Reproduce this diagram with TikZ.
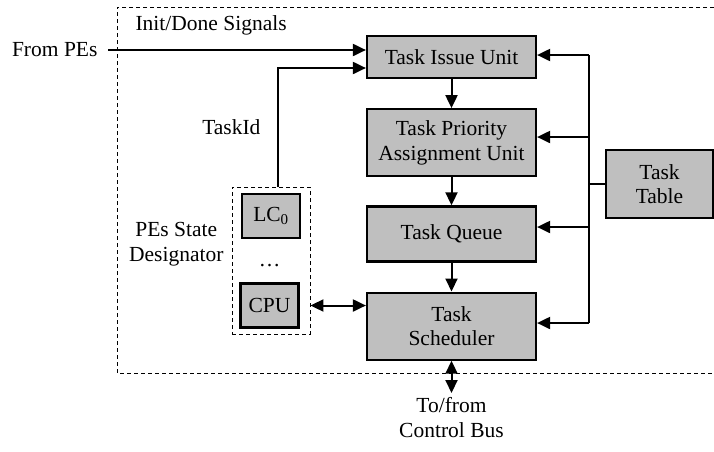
\documentclass[tikz,border=0pt]{standalone}
\usepackage{fontspec}
\setmainfont{Liberation Serif}
\usetikzlibrary{arrows.meta, positioning}

\begin{document}
\begin{tikzpicture}[
    x=1pt, y=-1pt,
    font=\fontsize{21.5}{24.5}\selectfont,
    blok/.style={draw, line width=2.2pt, fill=black!25, minimum width=169pt,
                 align=center, inner sep=0pt},
    kecil/.style={blok, minimum width=58pt, minimum height=44pt},
    panah/.style={-{Triangle[length=13pt, width=12pt]}, line width=2pt},
    panahdua/.style={{Triangle[length=13pt, width=12pt]}-{Triangle[length=13pt, width=12pt]}, line width=2pt},
    garis/.style={dash pattern=on 4pt off 3pt, line width=0.9pt}
  ]
    \useasboundingbox (0,0) rectangle (714,451);
    % batas unit
    \draw[garis] (714,7) -- (117,7) -- (117,373) -- (714,373);
    \node[anchor=west] (initlbl) at (132,25) {Init/Done Signals};

    % blok utama
    \node[blok, minimum height=42pt] (issue) at (451.5,57) {Task Issue Unit};
    \node[blok, minimum height=67pt, below=29pt of issue] (prio) {Task Priority\\Assignment Unit};
    \node[blok, minimum height=55pt, below=28pt of prio] (queue) {Task Queue};
    \node[blok, minimum height=67pt, below=29pt of queue] (sched) {Task\\Scheduler};
    \node[blok, minimum width=107pt, minimum height=68pt] (table) at (659.5,184) {Task\\Table};

    % PEs state designator
    \node[draw, garis, minimum width=78pt, minimum height=147pt] (pes) at (271,260.5) {};
    \node[kecil] (lc) at (271,216) {LC\textsubscript{0}};
    \node[kecil] (cpu) at (269.5,305.5) {CPU};
    \node (titik) at (269.5,266) {\dots};
    \node[align=center, anchor=east] (peslbl) at (227,244) {PEs State\\Designator};

    % masukan dari PE
    \coordinate (fromin) at (108,50);
    \node[left=7pt of fromin] (fromlbl) {From PEs};
    \draw[panah] (fromin) -- (issue.west |- fromin);

    \coordinate (tid) at (278,68);
    \node[anchor=east] (tidlbl) at (264,127) {TaskId};
    \draw[panah] (pes.north -| tid) -- (tid) -- (issue.west |- tid);

    % aliran antar blok
    \draw[panah] (issue) -- (prio);
    \draw[panah] (prio) -- (queue);
    \draw[panah] (queue) -- (sched);
    \draw[panahdua] (pes.east |- cpu) -- (sched.west |- cpu);

    % task table
    \coordinate (bus) at (589,184);
    \draw[line width=2pt] (table.west) -- (bus);
    \draw[line width=2pt] (bus |- 0,55) -- (bus |- 0,323);
    \foreach \b/\yy in {issue/55, prio/137, queue/227, sched/323}
      \draw[panah] (bus |- 0,\yy) -- (\b.east |- 0,\yy);

    % bus kontrol
    \coordinate (busend) at (451.5,393);
    \draw[panahdua] (sched.south) -- (busend);
    \node[below=1pt of busend, align=center] (buslbl) {To/from\\Control Bus};
\end{tikzpicture}
\end{document}
